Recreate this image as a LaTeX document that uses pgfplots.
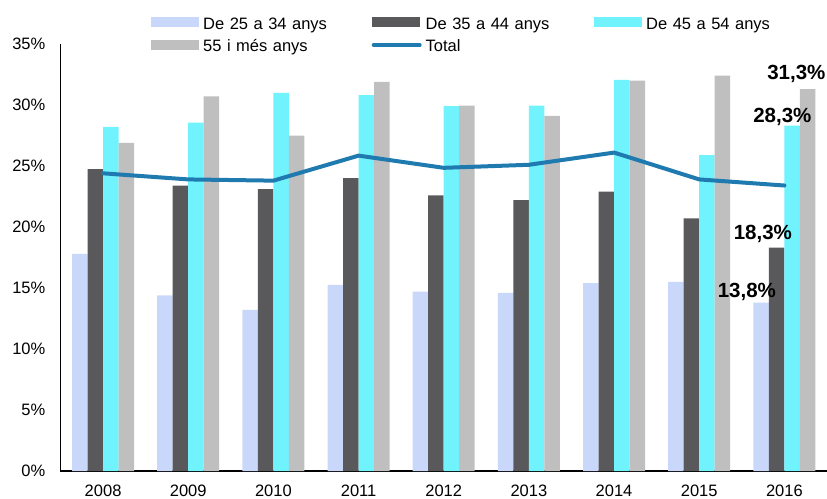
\documentclass[border=0pt]{standalone}
\usepackage{pgfplots}
\pgfplotsset{compat=1.18}
\usepackage{fontspec}
\setmainfont{Liberation Sans}

\definecolor{cA}{RGB}{201,216,250}
\definecolor{cB}{RGB}{89,89,91}
\definecolor{cC}{RGB}{112,243,253}
\definecolor{cD}{RGB}{191,191,191}
\definecolor{cTot}{RGB}{31,122,176}

\pgfplotsset{
    barleg/.style={legend image code/.code={\fill[##1] (0pt,-2.5pt) rectangle (48pt,7.5pt);}},
    lineleg/.style={legend image code/.code={\draw[##1] (2pt,2.5pt) -- (48pt,2.5pt);}},
}

% x: 0=2008 ... 8=2016
\pgfplotstableread{
x  a     b     c     d     tot
0  17.8  24.75 28.2  26.9  24.4
1  14.4  23.4  28.55 30.7  23.9
2  13.2  23.1  31.0  27.5  23.8
3  15.25 24.0  30.8  31.9  25.85
4  14.7  22.6  29.9  29.95 24.85
5  14.6  22.2  29.95 29.1  25.1
6  15.4  22.9  32.05 32.0  26.1
7  15.5  20.7  25.9  32.4  23.9
8  13.8  18.3  28.3  31.3  23.4
}\data

\begin{document}
\begin{tikzpicture}
\path[use as bounding box] (-60.5pt,-27pt) rectangle (766.5pt,471pt);
\begin{axis}[
    at={(0,0)}, anchor=south west,
    scale only axis,
    width=766.5pt, height=427pt,
    ybar, bar width=15.5pt,
    xmin=-0.5, xmax=8.5, ymin=0, ymax=35,
    enlarge x limits=false,
    axis lines*=left,
    axis line style={black, line width=1.2pt},
    clip=false,
    xtick={0,...,8},
    xticklabels={2008,2009,2010,2011,2012,2013,2014,2015,2016},
    ytick={0,5,...,35},
    yticklabel={\pgfmathprintnumber{\tick}\%},
    major tick length=0pt,
    tick style={draw=none},
    /pgf/number format/assume math mode=true,
    font=\fontsize{16.5}{19}\selectfont,
    yticklabel style={inner sep=0pt, xshift=-15pt},
    xticklabel style={anchor=base, inner sep=0pt, yshift=-25pt},
    legend columns=3,
    legend cell align=left,
    legend style={at={(rel axis cs:0,1)}, anchor=north west,
        font=\fontsize{16.5}{19}\selectfont,
        xshift=90.5pt, yshift=27pt, draw=none, fill=none,
        inner sep=0pt, row sep=7pt,
        nodes={inner sep=0pt, text height=12pt, text depth=3.5pt},
        /tikz/every odd column/.append style={column sep=4pt},
        /tikz/every even column/.append style={column sep=0pt, text width=168.5pt, align=left}},
]
\addplot[fill=cA, draw=none, bar shift=-23.25pt, barleg] table[x=x, y=a] {\data};
\addplot[fill=cB, draw=none, bar shift=-7.75pt, barleg] table[x=x, y=b] {\data};
\addplot[fill=cC, draw=none, bar shift=7.75pt, barleg] table[x=x, y=c] {\data};
\addplot[fill=cD, draw=none, bar shift=23.25pt, barleg] table[x=x, y=d] {\data};
\addplot[sharp plot, cTot, line width=4pt, line join=round, line cap=round, mark=none, lineleg]
    table[x=x, y=tot] {\data};
\legend{De 25 a 34 anys, De 35 a 44 anys, De 45 a 54 anys, 55 i més anys, Total}

\node[font=\bfseries\fontsize{20.5}{24}\selectfont, anchor=base, xshift=12pt, yshift=9.7pt] at (axis cs:8,31.3) {31,3\%};
\node[font=\bfseries\fontsize{20.5}{24}\selectfont, anchor=base, xshift=-2pt, yshift=3.7pt] at (axis cs:8,28.3) {28,3\%};
\node[font=\bfseries\fontsize{20.5}{24}\selectfont, anchor=base, xshift=-21.5pt, yshift=8.7pt] at (axis cs:8,18.3) {18,3\%};
\node[font=\bfseries\fontsize{20.5}{24}\selectfont, anchor=base, xshift=-37.5pt, yshift=5.2pt] at (axis cs:8,13.8) {13,8\%};
\end{axis}
\end{tikzpicture}
\end{document}
